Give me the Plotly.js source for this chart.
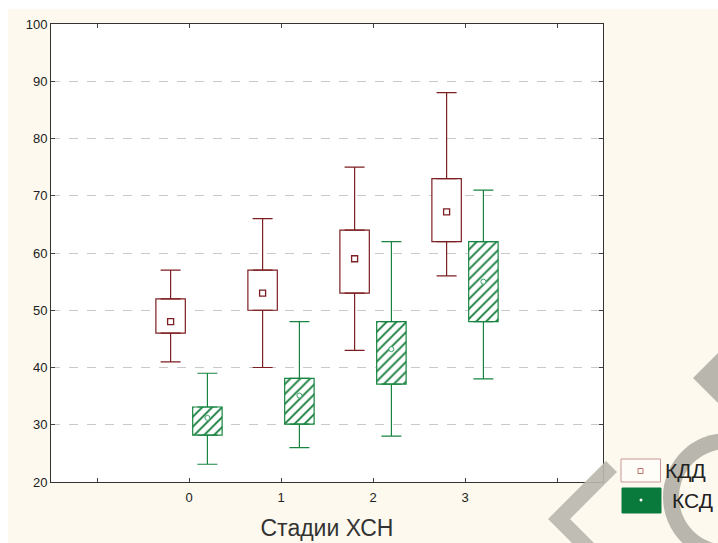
<!DOCTYPE html>
<html><head><meta charset="utf-8">
<script src="https://cdn.plot.ly/plotly-3.0.1.min.js"></script>
<style>html,body{margin:0;padding:0;background:#fff;width:718px;height:543px;overflow:hidden}
#chart{position:absolute;left:8px;top:9px;width:710px;height:534px}</style></head>
<body><div id="chart"></div>
<script>
const stages = [0, 1, 2, 3];
const tickVals = [-1, 0, 1, 2, 3, 4];
const tickText = ['', '0', '1', '2', '3', ''];
const seriesNames = ['КДД', 'КСД'];
const axisTitle = 'Стадии ХСН';

const kddCenter = [48, 53, 59, 67.2];
const kddQ1 = [46, 50, 53, 62];
const kddQ3 = [52, 57, 64, 73];
const kddMin = [41, 40, 43, 56];
const kddMax = [57, 66, 75, 88];

const ksdCenter = [31.2, 35.1, 43.2, 55];
const ksdQ1 = [28.2, 30.1, 37.1, 48];
const ksdQ3 = [33.1, 38.1, 48, 62];
const ksdMin = [23.1, 26, 28, 38];
const ksdMax = [39, 48, 62, 71];

const kddColor = '#7d1f22';
const ksdColor = '#178540';
const off = 0.2, bw = 0.32;
const xK = stages.map(s => s - off);
const xS = stages.map(s => s + off);
const zeros = stages.map(() => 0);

function whisker(x, y, up, down, color) {
  return {type:'scatter', mode:'markers', x:x, y:y, marker:{size:1, opacity:0}, hoverinfo:'skip',
    error_y:{type:'data', symmetric:false, array:up, arrayminus:down, width:10, thickness:1.2, color:color}};
}

const traces = [
  {type:'bar', x:xK, base:kddQ1, y:kddQ3.map((v,i)=>v-kddQ1[i]), width:bw,
   marker:{color:'#ffffff', line:{width:1.2, color:kddColor}}, hoverinfo:'skip', name:seriesNames[0]},
  {type:'bar', x:xS, base:ksdQ1, y:ksdQ3.map((v,i)=>v-ksdQ1[i]), width:bw,
   marker:{color:'#ffffff', line:{width:1.2, color:ksdColor},
     pattern:{shape:'/', fgcolor:'#117a38', bgcolor:'#ffffff', size:7, solidity:0.26}},
   hoverinfo:'skip', name:seriesNames[1]},
  whisker(xK, kddQ3, kddMax.map((v,i)=>v-kddQ3[i]), zeros, kddColor),
  whisker(xK, kddQ1, zeros, kddQ1.map((v,i)=>v-kddMin[i]), kddColor),
  whisker(xS, ksdQ3, ksdMax.map((v,i)=>v-ksdQ3[i]), zeros, ksdColor),
  whisker(xS, ksdQ1, zeros, ksdQ1.map((v,i)=>v-ksdMin[i]), ksdColor),
  {type:'scatter', mode:'markers', x:xK, y:kddCenter,
   marker:{symbol:'square', size:6, color:'#ffffff', line:{color:kddColor, width:1.3}}, hoverinfo:'skip'},
  {type:'scatter', mode:'markers', x:xS, y:ksdCenter,
   marker:{symbol:'circle', size:5, color:'#ffffff', line:{color:'#3aa36a', width:1}}, hoverinfo:'skip'}
];

const px = p => (p - 51) / 552;
const py = p => (482 - p) / 458;
const pth = pts => 'M' + pts.map(p => px(p[0]) + ',' + py(p[1])).join(' L') + ' Z';
const wm = '#b9b6ad';

const layout = {
  width:710, height:534,
  margin:{l:43, r:115, t:15, b:61},
  paper_bgcolor:'#fdf9ee', plot_bgcolor:'#ffffff',
  showlegend:false, barmode:'overlay',
  font:{family:'Liberation Sans, Arial, sans-serif', color:'#222', size:13},
  xaxis:{range:[-1.5, 4.5], tickvals:tickVals, ticktext:tickText, ticks:'inside', ticklen:4,
    tickcolor:'#444', showline:true, linecolor:'#333', linewidth:1, mirror:'ticks',
    showgrid:false, zeroline:false, ticklabelstandoff:3,
    title:{text:axisTitle, font:{size:23, color:'#333'}, standoff:16}},
  yaxis:{range:[20, 100], dtick:10, tick0:0, ticks:'inside', ticklen:4, tickcolor:'#444',
    showline:true, linecolor:'#333', linewidth:1, mirror:'ticks',
    showgrid:true, gridcolor:'#c9c9c9', griddash:'dash', gridwidth:1, zeroline:false},
  shapes:[
    {type:'path', xref:'paper', yref:'paper', layer:'above', line:{width:0}, fillcolor:wm, opacity:0.9,
     path:pth([[606,461],[617,472],[570,519],[594,543],[572,543],[548,519]])},
    {type:'path', xref:'paper', yref:'paper', layer:'above', line:{width:0}, fillcolor:wm,
     path:pth([[693,378],[718,353],[718,403]])},
    {type:'circle', xref:'paper', yref:'paper', layer:'above', line:{width:0}, fillcolor:wm,
     x0:px(663), x1:px(791), y0:py(561), y1:py(433)},
    {type:'circle', xref:'paper', yref:'paper', layer:'above', line:{width:0}, fillcolor:'#fdf9ee',
     x0:px(679), x1:px(775), y0:py(545), y1:py(449)},
    {type:'rect', xref:'paper', yref:'paper', x0:px(621), x1:px(660.5), y0:py(482), y1:py(459),
     line:{color:'#c99797', width:1}, fillcolor:'#fffdf8'},
    {type:'rect', xref:'paper', yref:'paper', x0:px(638), x1:px(643), y0:py(473.5), y1:py(468.5),
     line:{color:'#c07070', width:1}, fillcolor:'#fffdf8'},
    {type:'rect', xref:'paper', yref:'paper', x0:px(622), x1:px(661), y0:py(513), y1:py(488),
     line:{color:'#0a7a3c', width:1}, fillcolor:'#0a7a3c'},
    {type:'circle', xref:'paper', yref:'paper', x0:px(639.5), x1:px(642.5), y0:py(501.5), y1:py(498.5),
     line:{color:'#ffffff', width:0}, fillcolor:'#ffffff'}
  ],
  annotations:[
    {xref:'paper', yref:'paper', x:px(663), y:py(470), xanchor:'left', yanchor:'middle',
     text:seriesNames[0], showarrow:false, font:{size:21, color:'#222'}},
    {xref:'paper', yref:'paper', x:px(670), y:py(500), xanchor:'left', yanchor:'middle',
     text:seriesNames[1], showarrow:false, font:{size:21, color:'#222'}}
  ]
};

Plotly.newPlot('chart', traces, layout, {displayModeBar:false, staticPlot:true});
</script></body></html>
